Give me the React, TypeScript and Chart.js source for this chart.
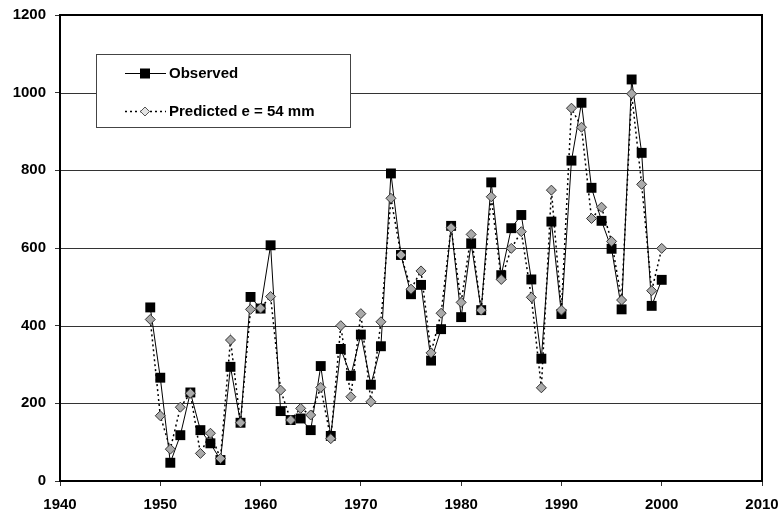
import React, { useEffect, useRef } from "react";
import { Chart, registerables } from "chart.js";

Chart.register(...registerables);

const years = [
  1949, 1950, 1951, 1952, 1953, 1954, 1955, 1956, 1957, 1958,
  1959, 1960, 1961, 1962, 1963, 1964, 1965, 1966, 1967, 1968,
  1969, 1970, 1971, 1972, 1973, 1974, 1975, 1976, 1977, 1978,
  1979, 1980, 1981, 1982, 1983, 1984, 1985, 1986, 1987, 1988,
  1989, 1990, 1991, 1992, 1993, 1994, 1995, 1996, 1997, 1998,
  1999, 2000,
];

const observed = [
  447, 266, 47, 118, 228, 131, 97, 54, 294, 150,
  474, 444, 607, 180, 157, 161, 131, 296, 116, 340,
  271, 377, 248, 347, 792, 582, 481, 505, 310, 391,
  657, 422, 612, 440, 769, 530, 651, 685, 519, 315,
  668, 430, 825, 974, 755, 670, 598, 442, 1034, 845,
  451, 518,
];

const predicted = [
  416, 168, 82, 190, 226, 71, 123, 58, 363, 150,
  442, 445, 475, 234, 157, 187, 170, 241, 109, 400,
  217, 431, 204, 410, 728, 582, 494, 541, 330, 432,
  652, 460, 635, 440, 732, 519, 599, 642, 473, 240,
  749, 440, 960, 911, 676, 705, 617, 466, 997, 764,
  490, 599,
];

const seriesLabels = ["Observed", "Predicted e = 54 mm"];
const xRange = [1940, 2010];
const yRange = [0, 1200];

const FONT = '"Liberation Sans", Arial, sans-serif';

const gridPlugin = {
  id: "plotGrid",
  beforeDatasetsDraw(chart: any) {
    const { ctx } = chart;
    const xs = chart.scales.x;
    const ys = chart.scales.y;
    const x0 = Math.round(xs.getPixelForValue(xRange[0]));
    const x1 = Math.round(xs.getPixelForValue(xRange[1]));
    ctx.save();
    ctx.setLineDash([]);
    ctx.strokeStyle = "#333";
    ctx.lineWidth = 1;
    ys.ticks.forEach((t: any) => {
      if (t.value <= yRange[0] || t.value >= yRange[1]) return;
      const py = Math.round(ys.getPixelForValue(t.value)) + 0.5;
      ctx.beginPath();
      ctx.moveTo(x0, py);
      ctx.lineTo(x1, py);
      ctx.stroke();
    });
    ctx.restore();
  },
  afterDraw(chart: any) {
    const { ctx } = chart;
    const xs = chart.scales.x;
    const ys = chart.scales.y;
    const left = Math.round(xs.getPixelForValue(xRange[0]));
    const right = Math.round(xs.getPixelForValue(xRange[1]));
    const top = Math.round(ys.getPixelForValue(yRange[1]));
    const bottom = Math.round(ys.getPixelForValue(yRange[0]));
    ctx.save();
    ctx.setLineDash([]);
    ctx.strokeStyle = "#000";
    ctx.lineWidth = 2;
    ctx.strokeRect(left, top, right - left, bottom - top);

    // legend box
    const bx = 96, by = 54, bw = 254, bh = 73;
    ctx.fillStyle = "#fff";
    ctx.fillRect(bx, by, bw, bh);
    ctx.strokeStyle = "#444";
    ctx.lineWidth = 1;
    ctx.strokeRect(bx + 0.5, by + 0.5, bw, bh);

    const lx1 = 125, lx2 = 166, mx = 145;
    const y1 = 73, y2 = 111;
    ctx.strokeStyle = "#000";
    ctx.lineWidth = 1;
    ctx.beginPath();
    ctx.moveTo(lx1, y1 + 0.5);
    ctx.lineTo(lx2, y1 + 0.5);
    ctx.stroke();
    ctx.fillStyle = "#000";
    ctx.fillRect(mx - 5, y1 - 4.5, 10, 10);

    ctx.lineWidth = 1.5;
    ctx.setLineDash([2, 3]);
    ctx.beginPath();
    ctx.moveTo(lx1, y2 + 0.5);
    ctx.lineTo(lx2, y2 + 0.5);
    ctx.stroke();
    ctx.setLineDash([]);
    ctx.beginPath();
    ctx.moveTo(mx, y2 - 4);
    ctx.lineTo(mx + 4.5, y2 + 0.5);
    ctx.lineTo(mx, y2 + 5);
    ctx.lineTo(mx - 4.5, y2 + 0.5);
    ctx.closePath();
    ctx.fillStyle = "#e4e4e4";
    ctx.fill();
    ctx.strokeStyle = "#555";
    ctx.lineWidth = 1;
    ctx.stroke();

    ctx.fillStyle = "#000";
    ctx.font = `bold 15px ${FONT}`;
    ctx.textBaseline = "middle";
    ctx.textAlign = "left";
    ctx.fillText(seriesLabels[0], 169, y1 + 1);
    ctx.fillText(seriesLabels[1], 169, y2 + 1);
    ctx.restore();
  },
};

export default function App() {
  const canvasRef = useRef<HTMLCanvasElement | null>(null);

  useEffect(() => {
    if (!canvasRef.current) return;
    const chart = new Chart(canvasRef.current, {
      type: "line",
      data: {
        datasets: [
          {
            label: seriesLabels[0],
            data: years.map((yr, i) => ({ x: yr, y: observed[i] })),
            borderColor: "#000",
            borderWidth: 1,
            pointStyle: "rect",
            pointRadius: 7,
            pointBackgroundColor: "#000",
            pointBorderColor: "#000",
            pointBorderWidth: 0,
            tension: 0,
            order: 1,
          },
          {
            label: seriesLabels[1],
            data: years.map((yr, i) => ({ x: yr, y: predicted[i] })),
            borderColor: "#000",
            borderWidth: 1.5,
            borderDash: [2, 3],
            pointStyle: "rectRot",
            pointRadius: 5,
            pointBackgroundColor: "#aaaaaa",
            pointBorderColor: "#333",
            pointBorderWidth: 1,
            tension: 0,
            order: 0,
          },
        ],
      },
      options: {
        animation: false,
        responsive: true,
        maintainAspectRatio: false,
        devicePixelRatio: 1,
        layout: { padding: { top: 15, right: 20, left: 0, bottom: 0 } },
        plugins: {
          legend: { display: false },
          tooltip: { enabled: false },
          title: { display: false },
        },
        scales: {
          x: {
            type: "linear",
            min: xRange[0],
            max: xRange[1],
            afterFit: (s: any) => {
              s.height = 35;
              s.paddingLeft = 0;
              s.paddingRight = 0;
            },
            ticks: {
              stepSize: 10,
              padding: 10,
              color: "#000",
              font: { family: FONT, size: 15, weight: "bold" },
              callback: (v: any) => String(v),
            },
            grid: {
              drawOnChartArea: false,
              drawTicks: true,
              tickLength: 5,
              color: "#333",
            },
            border: { display: false },
          },
          y: {
            type: "linear",
            min: yRange[0],
            max: yRange[1],
            afterFit: (s: any) => {
              s.width = 60;
              s.paddingTop = 0;
              s.paddingBottom = 0;
            },
            ticks: {
              stepSize: 200,
              padding: 9,
              color: "#000",
              font: { family: FONT, size: 15, weight: "bold" },
              callback: (v: any) => String(v),
            },
            grid: {
              drawOnChartArea: false,
              drawTicks: true,
              color: "#333",
              lineWidth: 1,
              tickLength: 5,
            },
            border: { display: false },
          },
        },
      },
      plugins: [gridPlugin],
    });
    return () => chart.destroy();
  }, []);

  return (
    <div
      style={{
        position: "fixed",
        left: 0,
        top: 0,
        width: 782,
        height: 516,
        background: "#fff",
      }}
    >
      <canvas ref={canvasRef} />
    </div>
  );
}
